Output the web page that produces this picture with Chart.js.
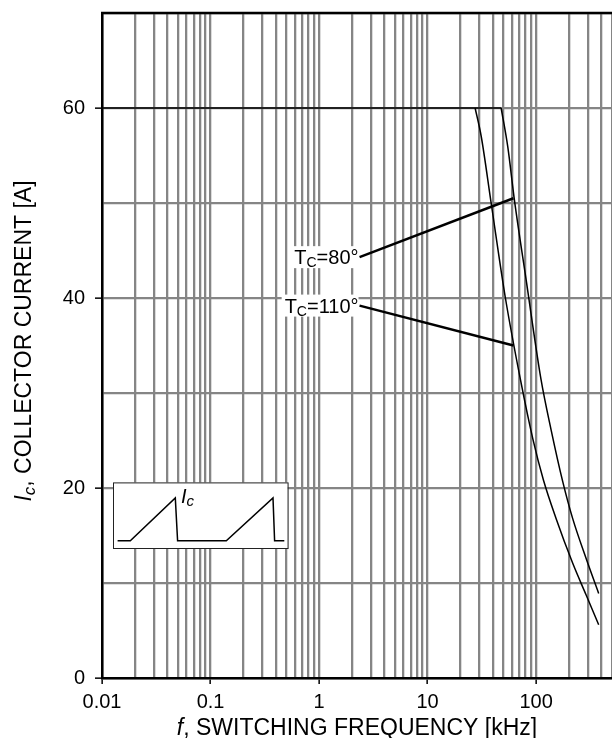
<!DOCTYPE html>
<html>
<head>
<meta charset="utf-8">
<script src="https://cdn.jsdelivr.net/npm/chart.js@4.4.1/dist/chart.umd.min.js"></script>
<style>
  html, body { margin: 0; padding: 0; background: #fff; }
</style>
</head>
<body>
<canvas id="chart" width="612" height="738"></canvas>
<script>
// switching frequency in kHz, collector current in A
const flatFreq = [0.01, 47.6];
const flatCurrent = [60, 60];

const tc110Freq = [27.4, 31.2, 38.5, 52.1, 71.7, 93.1, 116.7, 152.6, 216.9, 288.3, 377];
const tc110Current = [60, 57, 50, 40, 31.4, 25.2, 20.85, 16.8, 12.1, 8.76, 5.6];

const tc80Freq = [47.6, 54.8, 63.1, 80.9, 111, 137.5, 175.6, 216.9, 288.3, 377];
const tc80Current = [60, 55.9, 50.3, 41.9, 31.4, 26.1, 20.7, 16.8, 12.6, 8.9];

// leader lines from the labels to the curves
const leaderFreq = [2.36, 61.8];
const leader80Current = [44.3, 50.5];
const leader110Current = [39.2, 35.0];

const labelTemps = ['80°', '110°'];
const xTickLabels = [0.01, 0.1, 1, 10, 100];
const yTickLabels = [0, 20, 40, 60];

const FONT = '"Liberation Sans", Arial, sans-serif';
const GRID = '#858585';

function toPoints(xs, ys) {
    return xs.map((x, i) => ({ x: x, y: ys[i] }));
}

function drawParts(ctx, parts, x, y) {
    // parts: [text, font, dy]
    parts.forEach(p => {
        ctx.font = p[1];
        ctx.fillText(p[0], x, y + p[2]);
        x += ctx.measureText(p[0]).width;
    });
}

function partsWidth(ctx, parts) {
    let w = 0;
    parts.forEach(p => { ctx.font = p[1]; w += ctx.measureText(p[0]).width; });
    return w;
}

function tcParts(temp) {
    return [
        ['T', '20px ' + FONT, 0],
        ['C', '14px ' + FONT, 3],
        ['=' + temp, '20px ' + FONT, 0]
    ];
}

function noPadding(scale) {
    scale.paddingTop = 0;
    scale.paddingBottom = 0;
    scale.paddingLeft = 0;
    scale.paddingRight = 0;
}

const decor = {
    id: 'decor',
    beforeDatasetsDraw(chart) {
        const ctx = chart.ctx;
        const xs = chart.scales.x, ys = chart.scales.y;
        ctx.save();
        ctx.fillStyle = '#fff';
        [leader80Current, leader110Current].forEach((c, i) => {
            const right = xs.getPixelForValue(leaderFreq[0]) - 1;
            const mid = ys.getPixelForValue(c[0]);
            const w = partsWidth(ctx, tcParts(labelTemps[i]));
            ctx.fillRect(right - w - 3, mid - 11, w + 3, 22);
        });
        ctx.restore();
    },
    afterDatasetsDraw(chart) {
        const ctx = chart.ctx;
        const xs = chart.scales.x, ys = chart.scales.y;
        const area = chart.chartArea;
        ctx.save();
        ctx.fillStyle = '#000';
        ctx.textBaseline = 'alphabetic';
        [leader80Current, leader110Current].forEach((c, i) => {
            const right = xs.getPixelForValue(leaderFreq[0]) - 1;
            const mid = ys.getPixelForValue(c[0]);
            const parts = tcParts(labelTemps[i]);
            drawParts(ctx, parts, right - partsWidth(ctx, parts), mid + 7);
        });

        // small current waveform sketch
        const bx = area.left + 11, by = area.bottom - 195.6;
        ctx.fillStyle = '#fff';
        ctx.fillRect(bx, by, 174.6, 65.6);
        ctx.strokeStyle = '#222';
        ctx.lineWidth = 1;
        ctx.strokeRect(bx + 0.5, by + 0.5, 174.6, 65.6);
        const wave = [[4.6, 58.3], [17.3, 58.3], [62.3, 15.6], [64.6, 58.3], [113.3, 58.3],
                      [160, 15.6], [161.6, 58.3], [171.3, 58.3]];
        ctx.beginPath();
        wave.forEach((p, i) => i ? ctx.lineTo(bx + p[0], by + p[1]) : ctx.moveTo(bx + p[0], by + p[1]));
        ctx.lineWidth = 1.5;
        ctx.strokeStyle = '#000';
        ctx.stroke();
        ctx.fillStyle = '#000';
        drawParts(ctx, [['I', 'italic 20px ' + FONT, 0], ['c', 'italic 15px ' + FONT, 3]], bx + 68, by + 21);
        ctx.restore();
    },
    afterDraw(chart) {
        const ctx = chart.ctx;
        const area = chart.chartArea;
        ctx.save();
        ctx.strokeStyle = '#000';
        ctx.lineWidth = 2.5;
        ctx.beginPath();
        ctx.moveTo(area.left - 1, area.top);
        ctx.lineTo(area.right, area.top);
        ctx.stroke();

        ctx.fillStyle = '#000';
        ctx.textBaseline = 'alphabetic';
        // x title
        const xt = [['f', 'italic 23px ' + FONT, 0], [', SWITCHING FREQUENCY [kHz]', '23px ' + FONT, 0]];
        const cx = (area.left + area.right) / 2;
        drawParts(ctx, xt, cx - partsWidth(ctx, xt) / 2, 735);
        // y title
        const yt = [['I', 'italic 23px ' + FONT, 0], ['c', 'italic 17px ' + FONT, 4],
                    [', COLLECTOR CURRENT [A]', '23px ' + FONT, 0]];
        ctx.translate(31, 341);
        ctx.rotate(-Math.PI / 2);
        drawParts(ctx, yt, -partsWidth(ctx, yt) / 2, 0);
        ctx.restore();
    }
};

new Chart(document.getElementById('chart'), {
    type: 'scatter',
    data: {
        datasets: [
            { data: toPoints(flatFreq, flatCurrent), tension: 0 },
            { data: toPoints(tc110Freq, tc110Current), cubicInterpolationMode: 'monotone' },
            { data: toPoints(tc80Freq, tc80Current), cubicInterpolationMode: 'monotone' },
            { data: toPoints(leaderFreq, leader80Current), borderWidth: 2.5 },
            { data: toPoints(leaderFreq, leader110Current), borderWidth: 2.5 }
        ]
    },
    options: {
        responsive: false,
        animation: false,
        devicePixelRatio: 1,
        showLine: true,
        layout: { padding: { top: 13, right: 0, left: 0, bottom: 0 } },
        elements: {
            point: { radius: 0 },
            line: { borderColor: '#000', borderWidth: 1.5, fill: false }
        },
        plugins: {
            legend: { display: false },
            tooltip: { enabled: false }
        },
        scales: {
            x: {
                type: 'logarithmic',
                min: 0.01,
                max: 500,
                afterFit(scale) { scale.height = 60; noPadding(scale); },
                afterBuildTicks(scale) {
                    const ticks = [];
                    xTickLabels.forEach(d => {
                        for (let m = 1; m <= 9; m++) {
                            const v = m === 1 ? d : +(d * m).toPrecision(3);
                            if (v <= 500) ticks.push({ value: v });
                        }
                    });
                    scale.ticks = ticks;
                },
                ticks: {
                    autoSkip: false,
                    maxRotation: 0,
                    padding: 6,
                    color: '#000',
                    font: { family: FONT, size: 20 },
                    callback: v => xTickLabels.includes(v) ? String(v) : ''
                },
                grid: {
                    color: GRID,
                    lineWidth: 2.3,
                    tickLength: 6,
                    tickWidth: 1.5,
                    tickColor: c => (c.tick && xTickLabels.includes(c.tick.value)) ? '#000' : 'rgba(0,0,0,0)'
                },
                border: { color: '#000', width: 2.5 }
            },
            y: {
                min: 0,
                max: 70,
                afterFit(scale) { scale.width = 102; noPadding(scale); },
                ticks: {
                    stepSize: 10,
                    autoSkip: false,
                    padding: 10,
                    color: '#000',
                    font: { family: FONT, size: 20 },
                    callback: v => yTickLabels.includes(v) ? String(v) : ''
                },
                grid: {
                    color: GRID,
                    lineWidth: 2.3,
                    tickLength: 7,
                    tickWidth: 1.5,
                    tickColor: c => (c.tick && yTickLabels.includes(c.tick.value)) ? '#000' : 'rgba(0,0,0,0)'
                },
                border: { color: '#000', width: 2.5 }
            }
        }
    },
    plugins: [decor]
});
</script>
</body>
</html>
